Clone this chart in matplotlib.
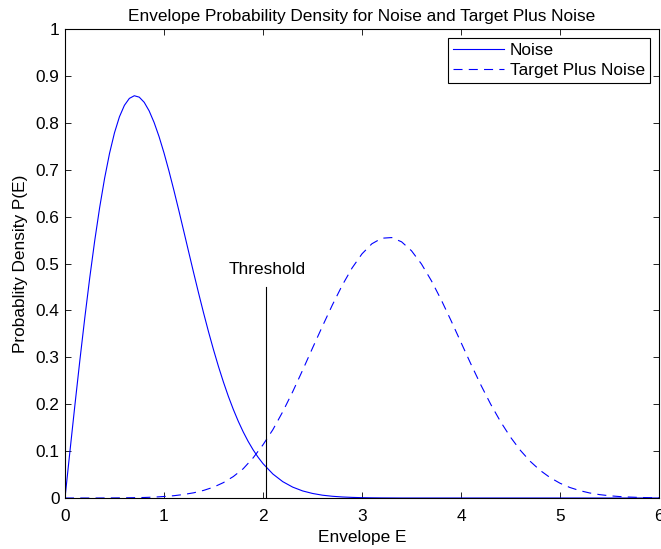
import matplotlib
matplotlib.use("Agg")
import matplotlib.pyplot as plt

# Envelope grid for the noise curve: fine steps over the peak, coarser on the tail
noise_envelope = [round(0.05 * i, 2) for i in range(41)] + \
                 [round(2.0 + 0.1 * i, 1) for i in range(1, 41)]

# Noise-only envelope density (Rayleigh-shaped)
noise_pdf = [
    0.0000, 0.0998, 0.1980, 0.2933, 0.3843, 0.4697, 0.5484, 0.6193, 0.6817, 0.7350,
    0.7788, 0.8129, 0.8372, 0.8520, 0.8577, 0.8547, 0.8437, 0.8254, 0.8007, 0.7706,
    0.7358, 0.6973, 0.6560, 0.6129, 0.5686, 0.5240, 0.4797, 0.4364, 0.3944, 0.3542,
    0.3162, 0.2805, 0.2474, 0.2168, 0.1890, 0.1637, 0.1410, 0.1207, 0.1028, 0.0870,
    0.0733,
    0.0511, 0.0348, 0.0232, 0.0151, 0.0097, 0.0060, 0.0037, 0.0022, 0.0013, 0.0007,
    0.0004, 0.0002, 0.0001, 0.0000, 0.0000, 0.0000, 0.0000, 0.0000, 0.0000, 0.0000,
    0.0000, 0.0000, 0.0000, 0.0000, 0.0000, 0.0000, 0.0000, 0.0000, 0.0000, 0.0000,
    0.0000, 0.0000, 0.0000, 0.0000, 0.0000, 0.0000, 0.0000, 0.0000, 0.0000, 0.0000,
]

# Envelope grid for the target-plus-noise curve
signal_envelope = [round(0.1 * i, 1) for i in range(61)]

# Target-plus-noise envelope density (Rician-shaped)
signal_pdf = [
    0.0000, 0.0000, 0.0000, 0.0000, 0.0001, 0.0002, 0.0004, 0.0007, 0.0011, 0.0019,
    0.0032, 0.0049, 0.0075, 0.0111, 0.0162, 0.0231, 0.0328, 0.0457, 0.0624, 0.0855,
    0.1135, 0.1458, 0.1841, 0.2266, 0.2724, 0.3196, 0.3660, 0.4113, 0.4534, 0.4905,
    0.5206, 0.5421, 0.5539, 0.5553, 0.5462, 0.5271, 0.4991, 0.4636, 0.4226, 0.3780,
    0.3317, 0.2856, 0.2412, 0.1999, 0.1626, 0.1297, 0.1015, 0.0780, 0.0588, 0.0435,
    0.0315, 0.0224, 0.0157, 0.0107, 0.0072, 0.0048, 0.0031, 0.0020, 0.0012, 0.0007,
    0.0004,
]

threshold_x = 2.03
threshold_top = 0.45

x_ticks = [0, 1, 2, 3, 4, 5, 6]
y_ticks = [0, 0.1, 0.2, 0.3, 0.4, 0.5, 0.6, 0.7, 0.8, 0.9, 1]
y_tick_labels = ["0", "0.1", "0.2", "0.3", "0.4", "0.5", "0.6", "0.7", "0.8", "0.9", "1"]

FS = 12.4

plt.rcParams["font.family"] = ["Liberation Sans", "DejaVu Sans"]
plt.rcParams["lines.scale_dashes"] = False

fig = plt.figure(figsize=(6.61, 5.49), dpi=100)
ax = fig.add_axes([65 / 661, 51 / 549, 594 / 661, 469 / 549])

ax.plot(noise_envelope, noise_pdf, color="#0000ff", lw=0.8, label="Noise")
ax.plot(signal_envelope, signal_pdf, color="#0000ff", lw=0.8, dashes=(6.5, 4.5),
        label="Target Plus Noise")
ax.plot([threshold_x, threshold_x], [0, threshold_top], color="black", lw=0.8)
ax.text(1.655, 0.488, "Threshold", ha="left", va="center", fontsize=FS)

ax.set_xlim(0, 6)
ax.set_ylim(0, 1)
ax.set_xticks(x_ticks)
ax.set_xticklabels([str(t) for t in x_ticks])
ax.set_yticks(y_ticks)
ax.set_yticklabels(y_tick_labels)
ax.tick_params(direction="in", length=4, width=0.6, top=True, right=True,
               labelsize=FS, colors="black")
ax.tick_params(axis="x", pad=8)
ax.tick_params(axis="y", pad=4)
for s in ax.spines.values():
    s.set_linewidth(0.8)

ax.set_title("Envelope Probability Density for Noise and Target Plus Noise",
             fontsize=FS, pad=6)
ax.set_xlabel("Envelope E", fontsize=FS, labelpad=4)
ax.set_ylabel("Probablity Density P(E)", fontsize=FS, labelpad=5)

leg = ax.legend(loc="upper right", fontsize=FS, handlelength=2.95,
                handletextpad=0.35, borderaxespad=0.5, labelspacing=0.3,
                borderpad=0.3, fancybox=False, framealpha=1)
leg.get_frame().set_edgecolor("black")
leg.get_frame().set_linewidth(0.8)

fig.savefig("out.png", dpi=100)
